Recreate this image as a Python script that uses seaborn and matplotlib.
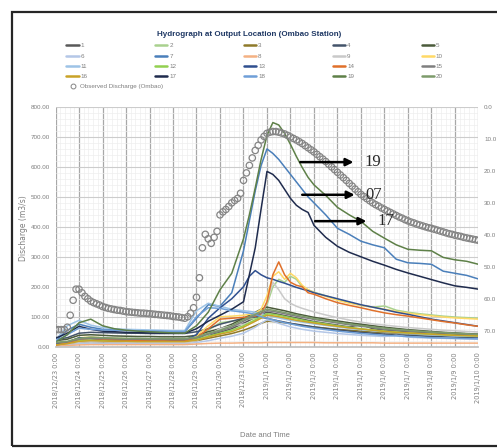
import numpy as np
import pandas as pd
import seaborn as sns
import matplotlib.pyplot as plt
from matplotlib.lines import Line2D
from matplotlib.patches import Rectangle
from matplotlib.ticker import AutoMinorLocator, FormatStrFormatter

# days since 2018/12/23 0:00 (model output grid)
days = [0, 0.5, 1, 1.5, 2, 2.5, 3, 3.5, 4, 4.5, 5, 5.5, 6, 6.5, 7, 7.5, 8,
        8.25, 8.5, 8.75, 9, 9.25, 9.5, 9.75, 10, 10.25, 10.5, 10.75, 11,
        11.5, 12, 12.5, 13, 13.5, 14, 14.5, 15, 15.5, 16, 16.5, 17, 17.5, 18]

s1 = [10, 14, 22, 25, 24, 23, 22, 22, 21, 21, 21, 21, 28, 38, 48, 60, 78,
      88, 98, 108, 115, 112, 108, 104, 100, 96, 92, 88, 84,
      78, 72, 66, 74, 60, 56, 53, 50, 48, 46, 44, 42, 40, 39]
s2 = [6, 12, 22, 25, 23, 22, 21, 21, 20, 20, 20, 20, 30, 55, 80, 85, 90,
      92, 95, 105, 140, 200, 225, 215, 235, 225, 200, 190, 182,
      170, 158, 148, 138, 132, 136, 122, 115, 110, 106, 102, 99, 97, 95]
s3 = [5, 8, 15, 17, 16, 16, 15, 15, 15, 15, 15, 15, 20, 28, 36, 44, 55,
      62, 70, 78, 85, 84, 82, 80, 77, 74, 71, 68, 66,
      62, 58, 55, 52, 49, 47, 45, 43, 41, 40, 38, 37, 36, 35]
s4 = [25, 30, 45, 48, 47, 46, 45, 45, 44, 44, 44, 44, 50, 60, 75, 85, 95,
      98, 100, 98, 95, 90, 86, 82, 78, 75, 72, 69, 66,
      61, 56, 52, 48, 45, 42, 40, 38, 36, 34, 33, 32, 31, 30]
s5 = [20, 25, 38, 40, 38, 36, 35, 34, 34, 33, 33, 33, 38, 50, 60, 75, 95,
      105, 115, 125, 132, 128, 124, 120, 115, 110, 106, 102, 98,
      92, 86, 80, 75, 70, 65, 61, 57, 54, 51, 48, 46, 44, 42]
s6 = [4, 6, 10, 12, 11, 11, 10, 10, 10, 10, 10, 10, 14, 20, 28, 35, 45,
      55, 65, 78, 90, 85, 78, 72, 66, 62, 58, 55, 52,
      48, 44, 41, 38, 36, 34, 38, 32, 30, 29, 28, 27, 26, 25]
s7 = [20, 55, 75, 65, 58, 56, 55, 54, 53, 52, 51, 50, 95, 140, 135, 180, 320,
      420, 520, 605, 660, 645, 625, 600, 575, 550, 525, 500, 480,
      440, 395, 375, 352, 340, 330, 292, 280, 278, 275, 252, 245, 238, 226]
s8 = [3, 4, 6, 7, 7, 7, 7, 7, 7, 7, 7, 7, 9, 11, 12, 12, 13,
      13, 13, 13, 14, 14, 14, 14, 14, 14, 14, 14, 14,
      13, 13, 13, 13, 13, 12, 12, 12, 12, 12, 12, 12, 12, 12]
s9 = [5, 10, 15, 18, 17, 16, 15, 15, 14, 14, 14, 14, 20, 40, 60, 70, 75,
      80, 85, 100, 150, 215, 190, 160, 145, 135, 128, 122, 116,
      106, 97, 89, 82, 76, 72, 68, 64, 61, 58, 55, 53, 51, 49]
s10 = [8, 15, 30, 32, 30, 28, 27, 26, 25, 25, 24, 24, 35, 70, 100, 102, 105,
       108, 112, 125, 170, 235, 250, 225, 245, 230, 205, 190, 180,
       168, 155, 145, 138, 132, 125, 118, 112, 107, 103, 99, 96, 94, 92]
s11 = [22, 70, 88, 72, 64, 60, 58, 57, 56, 55, 54, 54, 120, 145, 135, 125, 120,
       118, 115, 110, 105, 100, 96, 92, 88, 85, 82, 79, 76,
       71, 66, 61, 57, 53, 50, 47, 44, 42, 40, 38, 36, 35, 34]
s12 = [8, 12, 20, 22, 21, 20, 20, 19, 19, 19, 19, 19, 25, 35, 45, 55, 70,
       80, 90, 100, 110, 108, 105, 101, 97, 93, 89, 85, 82,
       76, 70, 65, 60, 56, 52, 49, 46, 44, 42, 40, 38, 37, 36]
s13 = [10, 15, 30, 28, 25, 24, 23, 22, 22, 21, 21, 22, 40, 95, 130, 160, 200,
       235, 254, 240, 230, 225, 218, 212, 205, 198, 192, 187, 180,
       170, 160, 150, 140, 132, 124, 115, 108, 100, 92, 86, 80, 74, 68]
s14 = [5, 12, 25, 28, 25, 23, 22, 21, 20, 20, 19, 19, 30, 60, 92, 95, 98,
       100, 102, 110, 150, 240, 283, 240, 215, 205, 200, 180, 175,
       160, 147, 138, 130, 121, 113, 107, 102, 96, 90, 84, 79, 73, 68]
s15 = [12, 16, 25, 28, 27, 26, 25, 25, 24, 24, 24, 24, 30, 42, 52, 65, 85,
       95, 105, 112, 120, 118, 114, 110, 106, 102, 98, 95, 91,
       85, 79, 73, 68, 64, 58, 55, 52, 50, 48, 46, 44, 42, 40]
s16 = [6, 10, 18, 20, 19, 18, 18, 17, 17, 17, 17, 17, 22, 32, 42, 50, 65,
       75, 85, 95, 105, 103, 100, 96, 92, 88, 85, 82, 79,
       73, 68, 63, 59, 55, 51, 48, 46, 44, 42, 40, 38, 37, 36]
s17 = [28, 45, 68, 58, 52, 50, 48, 47, 46, 46, 45, 45, 60, 85, 105, 125, 150,
       240, 330, 460, 585, 575, 555, 525, 495, 472, 458, 448, 405,
       365, 335, 315, 300, 285, 272, 258, 246, 235, 224, 213, 203, 198, 192]
s18 = [18, 40, 62, 58, 56, 55, 54, 53, 52, 52, 51, 51, 100, 130, 128, 120, 115,
       112, 108, 100, 95, 90, 85, 80, 76, 72, 68, 65, 62,
       57, 52, 48, 44, 41, 38, 36, 34, 32, 30, 29, 28, 27, 26]
s19 = [15, 40, 80, 92, 70, 60, 55, 52, 50, 48, 46, 45, 70, 115, 190, 245, 360,
       440, 530, 625, 705, 748, 740, 712, 675, 635, 598, 565, 540,
       505, 465, 440, 418, 385, 362, 340, 325, 322, 320, 298, 290, 285, 275]
s20 = [15, 18, 28, 32, 30, 29, 28, 28, 27, 27, 27, 27, 32, 45, 55, 70, 90,
       100, 108, 118, 125, 122, 118, 114, 110, 106, 102, 98, 94,
       88, 82, 76, 71, 66, 62, 58, 55, 52, 49, 47, 45, 43, 41]

# observed discharge at Ombao, every 3 hours
observed = [57, 57, 57, 57, 65, 105, 155, 192,
            192, 180, 168, 160, 152, 147, 143, 139,
            134, 131, 128, 126, 124, 122, 121, 119,
            117, 116, 115, 114, 113, 112, 112, 111,
            110, 109, 108, 107, 106, 105, 104, 103,
            101, 100, 99, 97, 95, 100, 112, 130,
            165, 230, 330, 375, 360, 345, 365, 385,
            440, 450, 458, 468, 480, 488, 495, 512,
            555, 580, 605, 630, 655, 672, 690, 702,
            712, 716, 718, 718, 716, 713, 710, 705,
            700, 695, 690, 684, 678, 671, 664, 657,
            650, 642, 634, 626, 618, 609, 600, 591,
            582, 573, 564, 555, 545, 536, 526, 517,
            508, 501, 494, 487, 480, 474, 469, 463,
            458, 453, 448, 443, 438, 433, 429, 424,
            420, 416, 413, 409, 406, 403, 400, 397,
            395, 392, 389, 386, 383, 380, 377, 375,
            372, 370, 368, 365, 363, 361, 359, 357,
            355]
obs_days = np.arange(len(observed)) / 8

date_labels = ["2018/12/23 0:00", "2018/12/24 0:00", "2018/12/25 0:00",
               "2018/12/26 0:00", "2018/12/27 0:00", "2018/12/28 0:00",
               "2018/12/29 0:00", "2018/12/30 0:00", "2018/12/31 0:00",
               "2019/1/1 0:00", "2019/1/2 0:00", "2019/1/3 0:00",
               "2019/1/4 0:00", "2019/1/5 0:00", "2019/1/6 0:00",
               "2019/1/7 0:00", "2019/1/8 0:00", "2019/1/9 0:00",
               "2019/1/10 0:00"]

colors = ['#595959', '#a9d18e', '#8f7a2a', '#44546a', '#4b5b3b',
          '#b4c7e7', '#4a7fba', '#f4b183', '#c9c9c9', '#ffd966',
          '#9dc3e6', '#92d050', '#2f4f8f', '#e0702a', '#7f7f7f',
          '#c9a227', '#1f2b4d', '#6f9fd8', '#5e8048', '#7d9b6b']

runs = [s1, s2, s3, s4, s5, s6, s7, s8, s9, s10,
        s11, s12, s13, s14, s15, s16, s17, s18, s19, s20]
names = [str(i + 1) for i in range(len(runs))]

df = pd.DataFrame({
    'day': days * len(runs),
    'q': [v for r in runs for v in r],
    'run': [n for n in names for _ in days],
})

sns.set_theme(style="white")
plt.rcParams['font.family'] = ['Liberation Sans Narrow', 'Liberation Sans', 'DejaVu Sans']

fig = plt.figure(figsize=(4.97, 4.48), dpi=100)
ax = fig.add_axes([0.1117, 0.2261, 0.851, 0.5351])

sns.lineplot(data=df, x='day', y='q', hue='run', hue_order=names,
             palette=colors, lw=1.1, legend=False, sort=False,
             estimator=None, ax=ax)
sns.scatterplot(x=obs_days, y=observed, marker='o', s=21,
                facecolors='none', edgecolor='#858585', linewidth=0.9,
                zorder=5, legend=False, ax=ax)

ax.set_xlim(0, 18)
ax.set_ylim(0, 800)
ax.set_xticks(range(len(date_labels)))
ax.set_xticklabels(date_labels, rotation=90, fontsize=4.8, color='#7f7f7f',
                   family='DejaVu Sans')
ax.set_yticks(range(0, 801, 100))
ax.yaxis.set_major_formatter(FormatStrFormatter('%.2f'))
ax.tick_params(axis='y', labelsize=4.5, labelcolor='#7f7f7f', pad=4)
ax.tick_params(axis='x', pad=4)
ax.tick_params(which='both', length=0)
ax.xaxis.set_minor_locator(AutoMinorLocator(5))
ax.yaxis.set_minor_locator(AutoMinorLocator(5))
ax.grid(which='minor', color='#eeeeee', lw=0.5)
ax.grid(which='major', axis='y', color='#cccccc', lw=0.8)
ax.grid(which='major', axis='x', color='#a8a8a8', lw=0.9)
ax.set_axisbelow(True)
for sp in ax.spines.values():
    sp.set_visible(False)
ax.spines['bottom'].set_visible(True)
ax.spines['bottom'].set_color('#bfbfbf')

ax.set_xlabel('Date and Time', fontsize=5.5, color='#7f7f7f')
ax.set_ylabel('Discharge (m3/s)', fontsize=5.5, color='#7f7f7f',
              family='DejaVu Sans')
ax.xaxis.set_label_coords(0.495, -0.356)
ax.yaxis.set_label_coords(-0.065, 0.495)

# rainfall axis on the right (inverted)
ax2 = ax.twinx()
ax2.set_ylim(75, 0)
ax2.set_yticks(range(0, 71, 10))
ax2.yaxis.set_major_formatter(FormatStrFormatter('%.1f'))
ax2.tick_params(axis='y', labelsize=4.5, labelcolor='#7f7f7f', pad=4)
ax2.tick_params(which='both', length=0)
ax2.grid(False)
for sp in ax2.spines.values():
    sp.set_visible(False)

# arrows marking the three best runs
for lab, x0, x1, y in [('19', 10.3, 12.8, 616), ('07', 10.38, 12.85, 507),
                       ('17', 10.93, 13.35, 419)]:
    ax.annotate('', xy=(x1, y), xytext=(x0, y),
                arrowprops=dict(arrowstyle='-|>', color='black', lw=1.8,
                                mutation_scale=11), zorder=6)
    ax.text(x1 + 0.35, y, lab, fontsize=12, family='Liberation Serif',
            va='center', ha='left', zorder=6)

fig.text(0.501, 1 - 34 / 448, 'Hydrograph at Output Location (Ombao Station)',
         ha='center', va='center', fontsize=5.8, fontweight='bold',
         color='#1f3864')

# legend, row-wise order like Excel
order = [0, 5, 10, 15, 1, 6, 11, 16, 2, 7, 12, 17, 3, 8, 13, 18, 4, 9, 14, 19]
handles = [Line2D([], [], color=colors[i], lw=1.8) for i in order]
labels = [names[i] for i in order]
fig.legend(handles, labels, ncol=5, loc='upper left',
           bbox_to_anchor=(66 / 497, 1 - 43 / 448), frameon=False,
           fontsize=4.5, labelcolor='#7f7f7f', handlelength=2.0,
           handletextpad=0.3, columnspacing=10.8, labelspacing=0.8,
           borderpad=0, borderaxespad=0)
obs_handle = Line2D([], [], ls='none', marker='o', mfc='none', mec='#858585',
                    ms=3.5, mew=0.7)
fig.legend([obs_handle], ['Observed Discharge (Ombao)'], loc='upper left',
           bbox_to_anchor=(68 / 497, 1 - 84 / 448), frameon=False,
           fontsize=4.5, labelcolor='#7f7f7f', handlelength=1.5,
           handletextpad=0.4, borderpad=0, borderaxespad=0)

fig.patches.append(Rectangle((11.5 / 497, 2 / 448), 1.0, (448 - 12.5 - 2) / 448,
                             transform=fig.transFigure, fill=False,
                             ec='#262626', lw=1.6))

fig.savefig('out.png', dpi=100, facecolor='white')
